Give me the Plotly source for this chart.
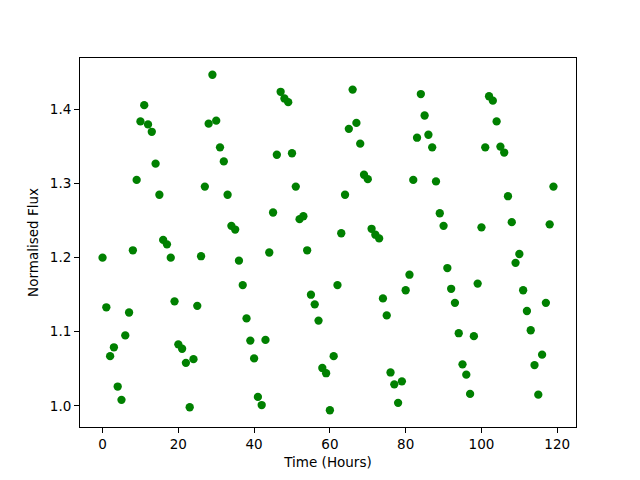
import plotly.graph_objects as go

hours = list(range(120))
flux = [
    1.200, 1.133, 1.067, 1.079, 1.026, 1.008, 1.095, 1.126, 1.210, 1.305,
    1.384, 1.406, 1.380, 1.370, 1.327, 1.285, 1.224, 1.218, 1.200, 1.141,
    1.083, 1.077, 1.058, 0.998, 1.063, 1.135, 1.202, 1.296, 1.381, 1.447,
    1.385, 1.349, 1.330, 1.285, 1.243, 1.238, 1.196, 1.163, 1.118, 1.088,
    1.064, 1.012, 1.001, 1.089, 1.207, 1.261, 1.339, 1.424, 1.415, 1.410,
    1.341, 1.296, 1.252, 1.256, 1.210, 1.150, 1.137, 1.115, 1.051, 1.044,
    0.994, 1.067, 1.163, 1.233, 1.285, 1.374, 1.427, 1.382, 1.354, 1.312,
    1.306, 1.239, 1.231, 1.226, 1.145, 1.122, 1.045, 1.029, 1.004, 1.033,
    1.156, 1.177, 1.305, 1.362, 1.421, 1.392, 1.366, 1.349, 1.303, 1.260,
    1.243, 1.186, 1.158, 1.139, 1.098, 1.056, 1.042, 1.016, 1.094, 1.165,
    1.241, 1.349, 1.418, 1.412, 1.384, 1.350, 1.342, 1.283, 1.248, 1.193,
    1.205, 1.156, 1.128, 1.102, 1.055, 1.015, 1.069, 1.139, 1.245, 1.296,
]
x_label = "Time (Hours)"
y_label = "Normalised Flux"
x_ticks = [0, 20, 40, 60, 80, 100, 120]
y_ticks = [1.0, 1.1, 1.2, 1.3, 1.4]

def padded(vals, frac=0.05):
    lo, hi = min(vals), max(vals)
    d = (hi - lo) * frac
    return [lo - d, hi + d]

fig = go.Figure(go.Scatter(
    x=hours, y=flux, mode="markers",
    marker=dict(color="#008000", size=8.3, line=dict(width=0)),
))

axis_common = dict(
    showgrid=False, zeroline=False, showline=True, linecolor="black",
    linewidth=1, mirror=True, ticks="outside", ticklen=5, tickwidth=1,
    tickcolor="black", automargin=False,
    tickfont=dict(family="DejaVu Sans", size=13.5, color="black"),
)
fig.update_xaxes(range=padded(hours), tickvals=x_ticks,
                 title=dict(text=x_label, font=dict(family="DejaVu Sans", size=13.5, color="black"), standoff=6),
                 **axis_common)
fig.update_yaxes(range=padded(flux), tickvals=y_ticks, tickformat=".1f",
                 title=dict(text=y_label, font=dict(family="DejaVu Sans", size=13.5, color="black"), standoff=8),
                 **axis_common)
fig.update_layout(
    width=640, height=480,
    margin=dict(l=72, r=72, t=50, b=61, pad=0, autoexpand=False),
    plot_bgcolor="white", paper_bgcolor="white",
    showlegend=False,
)
fig.write_html("out.html")
